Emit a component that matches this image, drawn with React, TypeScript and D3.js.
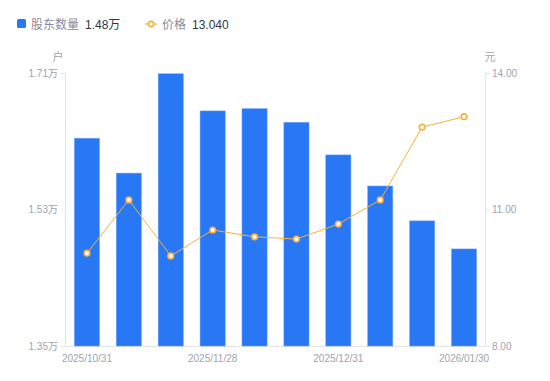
import React from "react";
import * as d3 from "d3";

const dates = ["2025/10/31","2025/11/07","2025/11/14","2025/11/21","2025/11/28","2025/12/05","2025/12/31","2026/01/09","2026/01/16","2026/01/30"];
const holders = [1.624, 1.578, 1.709, 1.660, 1.663, 1.645, 1.602, 1.561, 1.515, 1.478];
const prices = [10.04, 11.21, 9.98, 10.55, 10.40, 10.35, 10.68, 11.21, 12.81, 13.04];
const leftTicks = [1.35, 1.53, 1.71];
const rightTicks = [8, 11, 14];
const shownLabels = [0, 3, 6, 9];
const xLabels = ["2025/10/31", "2025/11/28", "2025/12/31", "2026/01/30"];

const W = 550, H = 381;
const L = 66, R = 485, T = 73, B = 346;
const FONT = "'Liberation Sans', 'Noto Sans CJK SC', sans-serif";
const BLUE = "#2878f5";
const ORANGE = "#fbb03b";
const GREY = "#a0a3b1";

export default function App() {
  const x = d3.scaleBand<number>().domain(d3.range(dates.length)).range([L, R]).paddingInner(0.4).paddingOuter(0.2);
  const xc = d3.scaleBand<number>().domain(d3.range(dates.length)).range([L, R]);
  const yL = d3.scaleLinear().domain([1.35, 1.71]).range([B, T]);
  const yR = d3.scaleLinear().domain([8, 14]).range([B, T]);
  const line = d3.line<number>().x((_, i) => xc(i)! + xc.bandwidth() / 2).y(d => yR(d));
  return (
    <svg width={W} height={H} style={{ position: "absolute", left: 0, top: 0, fontFamily: FONT }}>
      {/* legend */}
      <rect x={17} y={19} width={9} height={9} rx={1.5} fill={BLUE} />
      <text x={31} y={28.5} fontSize={12} fill="#888b99">股东数量</text>
      <text x={85} y={28.5} fontSize={12} fill="#33353d">1.48万</text>
      <line x1={145} x2={157} y1={24} y2={24} stroke={ORANGE} strokeWidth={1.2} />
      <circle cx={151} cy={24} r={2.6} fill="#fff" stroke={ORANGE} strokeWidth={1.6} />
      <text x={162} y={28.5} fontSize={12} fill="#888b99">价格</text>
      <text x={192} y={28.5} fontSize={12} fill="#33353d">13.040</text>
      {/* units */}
      <text x={58} y={61} fontSize={11} fill={GREY} textAnchor="middle">户</text>
      <text x={490} y={61} fontSize={11} fill={GREY} textAnchor="middle">元</text>
      {/* axes */}
      <line x1={L - 0.5} x2={L - 0.5} y1={T} y2={B} stroke="#e3e4e8" />
      <line x1={R + 0.5} x2={R + 0.5} y1={T} y2={B} stroke="#e3e4e8" />
      <line x1={L} x2={R} y1={B + 0.5} y2={B + 0.5} stroke="#e3e4e8" />
      {leftTicks.map(t => (
        <g key={"l" + t}>
          <line x1={L - 5} x2={L - 0.5} y1={yL(t) + 0.5} y2={yL(t) + 0.5} stroke="#e3e4e8" />
          <text x={L - 8} y={yL(t) + 3.5} fontSize={10} fill={GREY} textAnchor="end">{t.toFixed(2)}万</text>
        </g>
      ))}
      {rightTicks.map(t => (
        <g key={"r" + t}>
          <line x1={R + 0.5} x2={R + 5} y1={yR(t) + 0.5} y2={yR(t) + 0.5} stroke="#e3e4e8" />
          <text x={R + 7} y={yR(t) + 3.5} fontSize={10} fill={GREY}>{t.toFixed(2)}</text>
        </g>
      ))}
      {/* bars */}
      {holders.map((v, i) => (
        <rect key={i} x={x(i)!} y={yL(v)} width={x.bandwidth()} height={B - yL(v)} fill={BLUE} stroke="#6ea3f8" strokeWidth={0.5} />
      ))}
      {/* x labels */}
      {shownLabels.map((idx, k) => (
        <text key={idx} x={xc(idx)! + xc.bandwidth() / 2} y={362} fontSize={10} fill={GREY} textAnchor="middle">{xLabels[k]}</text>
      ))}
      {/* line */}
      <path d={line(prices) || ""} fill="none" stroke={ORANGE} strokeWidth={1} />
      {prices.map((p, i) => (
        <circle key={i} cx={xc(i)! + xc.bandwidth() / 2} cy={yR(p)} r={2.8} fill="#fff" stroke={ORANGE} strokeWidth={1.6} />
      ))}
    </svg>
  );
}
